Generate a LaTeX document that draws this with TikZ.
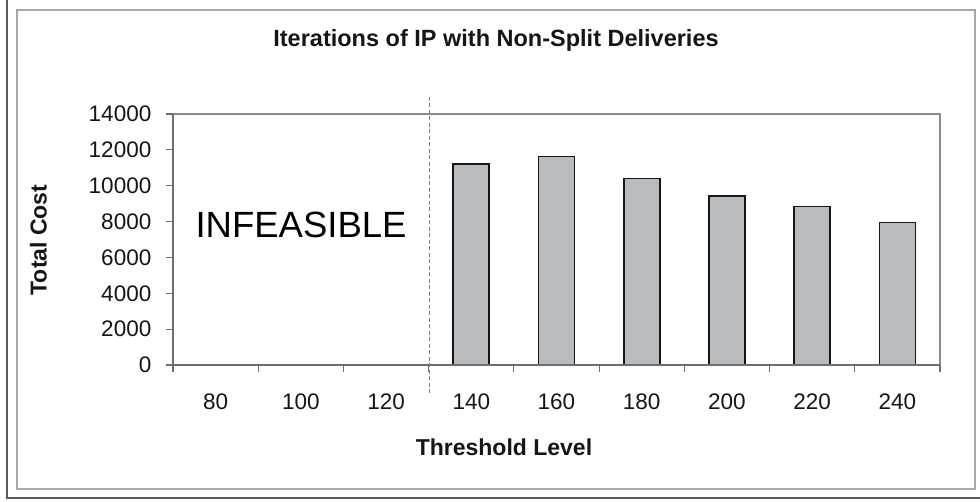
\documentclass[tikz,border=0pt]{standalone}
\usepackage{fontspec}
\setmainfont{Liberation Sans}
\definecolor{edgedark}{HTML}{5A5A5A}
\definecolor{framegray}{HTML}{A6A8AA}
\definecolor{axisgray}{HTML}{6E6E6E}
\definecolor{plotgray}{HTML}{8C8C8C}
\definecolor{dashgray}{HTML}{808080}
\definecolor{barfill}{HTML}{B8BCBE}
\definecolor{inkblack}{HTML}{161616}
\begin{document}
\begin{tikzpicture}[x=1pt,y=-1pt,
  lbl/.style={inner sep=0pt,text=inkblack,font=\fontsize{22.5}{26}\selectfont},
  axtitle/.style={inner sep=0pt,text=inkblack,font=\bfseries\fontsize{23}{27}\selectfont},
  axisline/.style={draw=axisgray,line width=1.5pt},
  tickline/.style={draw=axisgray,line width=1.2pt},
  barbox/.style={draw=inkblack,fill=barfill,line width=1.6pt},
  divider/.style={draw=dashgray,line width=1.5pt,dash pattern=on 4pt off 2.5pt}]
\useasboundingbox (0,0) rectangle (980,502);
\fill[white] (0,0) rectangle (980,502);

% chart frame with its dark edge on the left and bottom
\draw[edgedark,line width=2.5pt] (7,0) -- (7,498) -- (980,498);
\draw[framegray,line width=2pt] (17,10) rectangle (975,489);

% title
\node[axtitle,font=\bfseries\fontsize{23.5}{27}\selectfont] (title) at (496,40) {Iterations of IP with Non-Split Deliveries};

% plot area: top and right border
\draw[plotgray,line width=1.5pt] (173,114) -- (940,114) -- (940,365);

% bars (category width 85.22, value scale 251 per 14000)
\foreach \k/\val in {3/11210,4/11620,5/10410,6/9430,7/8830,8/7950}{
  \pgfmathsetmacro\cx{173+(\k+0.5)*85.22}
  \pgfmathsetmacro\ytop{365-\val/14000*251}
  \draw[barbox] (\cx-18,365) rectangle (\cx+18,\ytop);
}

% axes
\draw[axisline] (173,114) -- (173,365) -- (940,365);

% value axis ticks and labels
\foreach \k/\lab in {0/0,1/2000,2/4000,3/6000,4/8000,5/10000,6/12000,7/14000}{
  \pgfmathsetmacro\yy{365-\k*251/7}
  \draw[tickline] (166,\yy) -- (173,\yy);
  \node[lbl,anchor=east] (yl\k) at (151.5,\yy) {\lab};
}

% category axis ticks and labels
\foreach \k in {0,...,9}{
  \pgfmathsetmacro\xx{173+\k*85.22}
  \draw[tickline] (\xx,365) -- (\xx,372);
}
\foreach \k/\lab in {0/80,1/100,2/120,3/140,4/160,5/180,6/200,7/220,8/240}{
  \pgfmathsetmacro\xx{173+(\k+0.5)*85.22}
  \node[lbl] (xl\k) at (\xx,401.5) {\lab};
}

% boundary of the infeasible thresholds
\coordinate (divtop) at (429.5,97);
\coordinate (divbot) at (429.5,393);
\draw[divider] (divtop) -- (divbot);

\node[inner sep=0pt,text=black,font=\fontsize{36.5}{40}\selectfont] (infeasible) at (301,224.5) {INFEASIBLE};

% axis titles
\node[axtitle] (xtitle) at (504,447) {Threshold Level};
\node[axtitle,rotate=90] (ytitle) at (38.5,240) {Total Cost};
\end{tikzpicture}
\end{document}
